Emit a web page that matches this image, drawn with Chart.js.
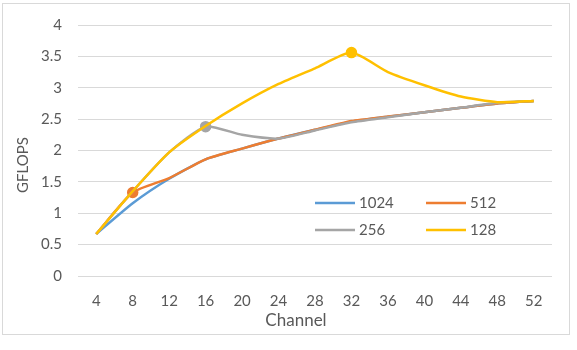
<!DOCTYPE html>
<html>
<head>
<meta charset="utf-8">
<script src="https://cdn.jsdelivr.net/npm/chart.js@4.4.1/dist/chart.umd.min.js"></script>
<style>
  html, body { margin: 0; padding: 0; background: #fff; overflow: hidden; }
  #wrap { position: relative; width: 577px; height: 350px; overflow: hidden; }
  #frame { position: absolute; left: 2px; top: 3px; width: 566px; height: 330px; border: 1px solid #d9d9d9; }
  #chart { position: absolute; left: 0; top: 0; }
  #caption { position: absolute; left: 20px; top: 347px; font: italic 16px "Liberation Serif", serif; line-height: 20px; color: #333; white-space: nowrap; }
</style>
</head>
<body>
<div id="wrap">
  <div id="frame"></div>
  <canvas id="chart" width="577" height="350"></canvas>
  <div id="caption">Figure 10. FSE performance for different channel and batch sizes</div>
</div>
<script>
const channels = [4, 8, 12, 16, 20, 24, 28, 32, 36, 40, 44, 48, 52];
const seriesNames = ["1024", "512", "256", "128"];
const b1024 = [0.67, 1.16, 1.55, 1.86, 2.03, 2.19, 2.33, 2.46, 2.54, 2.61, 2.68, 2.75, 2.79];
const b512 = [0.67, 1.33, 1.56, 1.86, 2.03, 2.19, 2.33, 2.47, 2.54, 2.61, 2.68, 2.75, 2.79];
const b256 = [0.67, 1.35, 1.97, 2.38, 2.25, 2.19, 2.32, 2.45, 2.53, 2.61, 2.68, 2.76, 2.79];
const b128 = [0.67, 1.35, 1.97, 2.39, 2.75, 3.06, 3.31, 3.56, 3.25, 3.04, 2.86, 2.77, 2.79];
// index of the single highlighted marker on each line (-1 = none)
const markerAt = [-1, 1, 3, 7];

const colors = ["#5B9BD5", "#ED7D31", "#A5A5A5", "#FFC000"];
const values = [b1024, b512, b256, b128];
const textColor = "#595959";

const datasets = values.map((data, i) => ({
  label: seriesNames[i],
  data: data,
  borderColor: colors[i],
  backgroundColor: colors[i],
  pointBackgroundColor: colors[i],
  pointBorderColor: colors[i],
  borderWidth: 2.5,
  tension: 0.2,
  pointRadius: data.map((_, j) => (j === markerAt[i] ? 4.5 : 0)),
  order: 3 - i,
}));

// axis titles + legend drawn by hand so they sit where the original has them
const extras = {
  id: "extras",
  afterDraw(chart) {
    const c = chart.ctx;
    c.save();
    c.fillStyle = textColor;
    c.textBaseline = "middle";

    c.font = "15px Lato";
    c.textAlign = "center";
    c.save();
    c.translate(23, 165);
    c.rotate(-Math.PI / 2);
    c.fillText("GFLOPS", 0, 0);
    c.restore();

    c.font = "17px Lato";
    c.fillText("Channel", 296, 321);

    // legend, 2 columns inside the plot
    const cols = [315, 426];
    const rows = [203, 230];
    c.font = "15px Lato";
    c.textAlign = "left";
    chart.data.datasets.forEach((ds, i) => {
      const x = cols[i % 2];
      const y = rows[Math.floor(i / 2)];
      c.strokeStyle = ds.borderColor;
      c.lineWidth = 2.5;
      c.beginPath();
      c.moveTo(x, y);
      c.lineTo(x + 40, y);
      c.stroke();
      c.fillText(ds.label, x + 44, y);
    });
    c.restore();
  },
};

const chart = new Chart(document.getElementById("chart").getContext("2d"), {
  type: "line",
  data: { labels: channels, datasets: datasets },
  options: {
    responsive: false,
    animation: false,
    layout: { padding: { left: 0, right: 25, top: 20, bottom: 0 } },
    plugins: { legend: { display: false }, tooltip: { enabled: false } },
    scales: {
      x: {
        offset: true,
        grid: { display: false, offset: true },
        border: { display: false },
        ticks: { color: textColor, font: { family: "Lato", size: 15 }, padding: 8, maxRotation: 0 },
        afterFit(scale) { scale.height = 74; },
      },
      y: {
        min: 0,
        max: 4,
        grid: { color: "#d9d9d9", lineWidth: 1, drawTicks: false },
        border: { display: false },
        ticks: {
          stepSize: 0.5,
          color: textColor,
          font: { family: "Lato", size: 15 },
          padding: 16,
          callback: (v) => String(Number(v)),
        },
        afterFit(scale) { scale.width = 78; },
      },
    },
  },
  plugins: [extras],
});
</script>
</body>
</html>
